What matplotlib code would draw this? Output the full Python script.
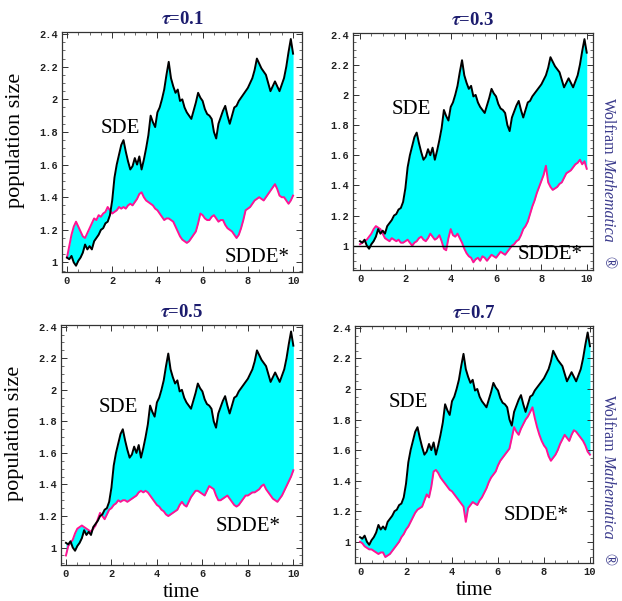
import matplotlib
matplotlib.use("Agg")
import matplotlib.pyplot as plt
from matplotlib.ticker import MultipleLocator, FuncFormatter
import numpy as np

plt.rcParams["mathtext.fontset"] = "stix"

# time grid (step 0.1)
time = np.round(np.arange(0, 10.01, 0.1), 1)

# SDE path (same in every panel)
sde = [1.03, 1.02, 1.04, 1.00, 0.98, 1.01, 1.03, 1.06, 1.11, 1.08,
       1.10, 1.08, 1.13, 1.15, 1.17, 1.20, 1.21, 1.24, 1.25, 1.29,
       1.38, 1.52, 1.60, 1.66, 1.72, 1.75, 1.68, 1.62, 1.57, 1.59,
       1.64, 1.60, 1.65, 1.57, 1.63, 1.70, 1.78, 1.90, 1.86, 1.83,
       1.92, 1.95, 2.00, 2.06, 2.15, 2.23, 2.13, 2.08, 2.04, 2.06,
       1.99, 2.00, 1.95, 1.92, 1.90, 1.88, 1.93, 1.98, 2.04, 2.01,
       1.99, 1.94, 1.91, 1.90, 1.88, 1.80, 1.76, 1.85, 1.89, 1.93,
       1.96, 1.90, 1.85, 1.90, 1.95, 1.96, 1.99, 2.01, 2.03, 2.05,
       2.07, 2.10, 2.13, 2.18, 2.25, 2.22, 2.19, 2.17, 2.15, 2.10,
       2.05, 2.08, 2.11, 2.08, 2.05, 2.09, 2.13, 2.20, 2.29, 2.37,
       2.28]

# SDDE* paths for each delay
sdde_01 = [1.03, 1.10, 1.17, 1.22, 1.25, 1.22, 1.19, 1.16, 1.15, 1.18,
           1.21, 1.24, 1.27, 1.26, 1.29, 1.28, 1.30, 1.31, 1.34, 1.32,
           1.30, 1.31, 1.32, 1.34, 1.33, 1.34, 1.33, 1.35, 1.36, 1.35,
           1.37, 1.39, 1.42, 1.43, 1.40, 1.38, 1.37, 1.36, 1.35, 1.33,
           1.32, 1.30, 1.28, 1.26, 1.27, 1.27, 1.26, 1.25, 1.22, 1.19,
           1.16, 1.14, 1.13, 1.12, 1.13, 1.15, 1.17, 1.19, 1.24, 1.30,
           1.29, 1.27, 1.26, 1.26, 1.28, 1.29, 1.27, 1.25, 1.26, 1.26,
           1.23, 1.21, 1.20, 1.19, 1.17, 1.15, 1.17, 1.21, 1.26, 1.32,
           1.33, 1.34, 1.36, 1.38, 1.39, 1.40, 1.39, 1.38, 1.40, 1.42,
           1.44, 1.46, 1.48, 1.45, 1.41, 1.40, 1.40, 1.38, 1.36, 1.38,
           1.41]

sdde_03 = [1.01, 1.02, 1.03, 1.04, 1.06, 1.08, 1.11, 1.13, 1.12, 1.11,
           1.08, 1.05, 1.04, 1.03, 1.05, 1.04, 1.03, 1.04, 1.02, 1.02,
           1.03, 1.04, 1.02, 1.00, 1.02, 1.03, 1.05, 1.06, 1.04, 1.03,
           1.05, 1.08, 1.06, 1.04, 1.05, 1.07, 1.03, 0.98, 0.97, 1.05,
           1.11, 1.07, 1.06, 1.08, 1.05, 1.02, 0.98, 0.95, 0.93, 0.92,
           0.89, 0.91, 0.92, 0.90, 0.93, 0.92, 0.90, 0.92, 0.94, 0.93,
           0.92, 0.94, 0.96, 0.95, 0.94, 0.96, 0.98, 1.00, 1.01, 1.03,
           1.04, 1.07, 1.11, 1.13, 1.16, 1.21, 1.26, 1.30, 1.35, 1.39,
           1.43, 1.47, 1.53, 1.42, 1.39, 1.37, 1.38, 1.39, 1.41, 1.42,
           1.45, 1.48, 1.49, 1.50, 1.52, 1.54, 1.55, 1.57, 1.54, 1.56,
           1.51]

sdde_05 = [0.95, 1.01, 1.03, 1.05, 1.09, 1.12, 1.13, 1.14, 1.13, 1.12,
           1.11, 1.10, 1.12, 1.14, 1.18, 1.22, 1.20, 1.18, 1.21, 1.24,
           1.25, 1.27, 1.28, 1.30, 1.29, 1.30, 1.30, 1.29, 1.30, 1.31,
           1.32, 1.33, 1.35, 1.36, 1.35, 1.36, 1.35, 1.33, 1.31, 1.29,
           1.27, 1.26, 1.24, 1.23, 1.21, 1.20, 1.21, 1.22, 1.23, 1.24,
           1.27, 1.29, 1.27, 1.26, 1.29, 1.32, 1.34, 1.36, 1.36, 1.35,
           1.34, 1.33, 1.36, 1.39, 1.38, 1.37, 1.33, 1.30, 1.30, 1.31,
           1.32, 1.33, 1.31, 1.29, 1.27, 1.26, 1.27, 1.29, 1.31, 1.33,
           1.33, 1.34, 1.35, 1.35, 1.36, 1.37, 1.39, 1.40, 1.37, 1.35,
           1.33, 1.31, 1.30, 1.29, 1.31, 1.33, 1.36, 1.39, 1.42, 1.45,
           1.49]

sdde_07 = [1.00, 0.99, 0.97, 0.96, 0.95, 0.95, 0.94, 0.93, 0.92, 0.93,
           0.93, 0.90, 0.91, 0.92, 0.94, 0.96, 0.98, 1.00, 1.03, 1.05,
           1.08, 1.10, 1.13, 1.16, 1.19, 1.21, 1.22, 1.23, 1.27, 1.31,
           1.29, 1.36, 1.46, 1.47, 1.45, 1.42, 1.40, 1.38, 1.36, 1.34,
           1.33, 1.31, 1.29, 1.27, 1.25, 1.23, 1.13, 1.22, 1.24, 1.26,
           1.25, 1.24, 1.27, 1.29, 1.32, 1.35, 1.39, 1.42, 1.44, 1.46,
           1.50, 1.53, 1.55, 1.57, 1.59, 1.61, 1.68, 1.75, 1.72, 1.70,
           1.74, 1.77, 1.80, 1.82, 1.85, 1.88, 1.81, 1.75, 1.70, 1.66,
           1.63, 1.61, 1.56, 1.53, 1.55, 1.57, 1.60, 1.64, 1.67, 1.70,
           1.68, 1.66, 1.70, 1.73, 1.72, 1.70, 1.68, 1.66, 1.63, 1.59,
           1.57]

titles = ["0.1", "0.3", "0.5", "0.7"]
sdde_all = [sdde_01, sdde_03, sdde_05, sdde_07]

# layout per panel: axes rect, xlim, ylim, SDE label pos, SDDE label pos
rects = [[0.0997, 0.547, 0.386, 0.399],
         [0.5675, 0.551, 0.386, 0.394],
         [0.098, 0.060, 0.3875, 0.399],
         [0.5707, 0.063, 0.3826, 0.394]]
xlims = [(-0.22, 10.4), (-0.31, 10.28), (-0.22, 10.38), (-0.22, 10.13)]
ylims = [(0.94, 2.41), (0.84, 2.41), (0.89, 2.41), (0.86, 2.41)]
sde_pos = [(2.35, 1.82), (2.28, 1.90), (2.3, 1.89), (2.1, 1.91)]
sdde_pos = [(8.4, 1.03), (8.38, 0.94), (8.02, 1.135), (7.68, 1.17)]

navy = "#1c1c6e"
logo = "#3a3a8c"
mono = "Liberation Mono"
serif = "Liberation Serif"

fig = plt.figure(figsize=(6.22, 6.01), dpi=100)

def fmt(v, pos):
    s = "%.1f" % v
    return s[:-2] if s.endswith(".0") else s

for i in range(4):
    ax = fig.add_axes(rects[i])
    ax.fill_between(time, sde, sdde_all[i], color="#00ffff", lw=0)
    ax.plot(time, sdde_all[i], color="#ff1493", lw=1.4)
    ax.plot(time, sde, color="black", lw=1.4)
    if i == 1:
        ax.axhline(1.0, color="black", lw=1.0)
    ax.set_xlim(xlims[i])
    ax.set_ylim(ylims[i])
    ax.xaxis.set_major_locator(MultipleLocator(2))
    ax.xaxis.set_minor_locator(MultipleLocator(0.5))
    ax.yaxis.set_major_locator(MultipleLocator(0.2))
    ax.yaxis.set_minor_locator(MultipleLocator(0.05))
    ax.yaxis.set_major_formatter(FuncFormatter(fmt))
    ax.tick_params(which="both", direction="in", top=True, right=True,
                   colors="#333333", labelcolor="#222222")
    ax.tick_params(which="major", length=4, width=0.7, labelsize=7.5, pad=3)
    ax.tick_params(which="minor", length=2, width=0.5)
    for lab in ax.get_xticklabels() + ax.get_yticklabels():
        lab.set_fontfamily(mono)
        lab.set_fontweight("bold")
    for sp in ax.spines.values():
        sp.set_color("#333333")
        sp.set_linewidth(0.9)
    ax.set_title(r"$\boldsymbol{\tau}$=" + titles[i], fontsize=13.5,
                 fontweight="bold", color=navy, family=serif, pad=6)
    ax.text(sde_pos[i][0], sde_pos[i][1], "SDE", fontsize=15, family=serif,
            ha="center", va="center")
    ax.text(sdde_pos[i][0], sdde_pos[i][1], "SDDE*", fontsize=15,
            family=serif, ha="center", va="center")
    if i in (0, 2):
        ax.set_ylabel("population size", fontsize=16, family=serif)
        ax.yaxis.set_label_coords(-0.155, 0.55)
    if i in (2, 3):
        ax.set_xlabel("time", fontsize=15, family=serif)
        ax.xaxis.set_label_coords(0.5, -0.075)

# vertical Wolfram Mathematica marks on the right
for top_px in (98, 395):
    fig.text(608 / 622, 1 - top_px / 601, "Wolfram", rotation=-90,
             fontsize=11.5, family=serif, color=logo, ha="center", va="top")
    fig.text(608 / 622, 1 - (top_px + 59) / 601, "Mathematica", rotation=-90,
             fontsize=11.5, family=serif, style="italic", color=logo,
             ha="center", va="top")
    fig.text(608 / 622, 1 - (top_px + 158) / 601, "\u00ae", rotation=-90,
             fontsize=11.5, family=serif, color=logo, ha="center", va="top")

fig.savefig("out.png", dpi=100)
